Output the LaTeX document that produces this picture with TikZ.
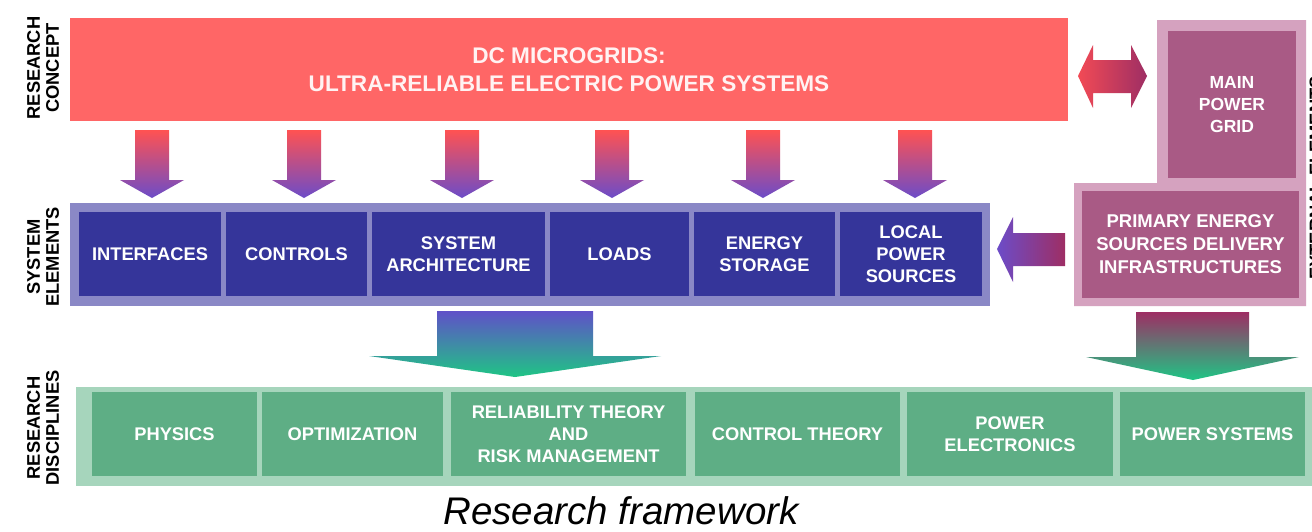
\documentclass[tikz,border=0pt]{standalone}
\usepackage{fontspec}
\setmainfont{Liberation Sans}
\definecolor{redBox}{HTML}{FF6666}
\definecolor{extOuter}{HTML}{D5A2BF}
\definecolor{extInner}{HTML}{A95A85}
\definecolor{sysOuter}{HTML}{8A88C6}
\definecolor{sysInner}{HTML}{35359A}
\definecolor{disOuter}{HTML}{A6D5BC}
\definecolor{disInner}{HTML}{5EAE85}
\definecolor{arrTop}{HTML}{FF5252}
\definecolor{arrBot}{HTML}{6C4CC8}
\definecolor{bigTop}{HTML}{6050C8}
\definecolor{bigBot}{HTML}{1FC585}
\definecolor{magArr}{HTML}{9E2E64}
\definecolor{dblLeft}{HTML}{F24A55}
\newcommand\smalldown[1]{%
  \shade[top color=arrTop, bottom color=arrBot]
    ({#1-17},130) -- ({#1+17},130) -- ({#1+17},180) -- ({#1+32},180) --
    (#1,198) -- ({#1-32},180) -- ({#1-17},180) -- cycle;}
\begin{document}
\begin{tikzpicture}[x=1pt,y=-1pt,
  box/.style={text=white, font=\bfseries\fontsize{18.3}{22}\selectfont, align=center, inner sep=0pt},
  sysbox/.style={box, fill=sysInner, minimum height=84pt},
  disbox/.style={box, fill=disInner, minimum height=84pt},
  extbox/.style={box, fill=extInner},
  rowlabel/.style={rotate=90, font=\bfseries\fontsize{18.3}{19}\selectfont, align=center, inner sep=0pt}]
\useasboundingbox (0,0) rectangle (1312,531);
\fill[white] (0,0) rectangle (1312,531);

% research concept
\node[box, fill=redBox, minimum width=998pt, minimum height=103pt,
      font=\bfseries\fontsize{22.6}{28}\selectfont, text=white!95!red] (concept) at (569,69.5)
  {DC MICROGRIDS:\\ULTRA-RELIABLE ELECTRIC POWER SYSTEMS};

% external elements frame
\fill[extOuter] (1157,20) -- (1306,20) -- (1306,306) -- (1074,306) -- (1074,183) -- (1157,183) -- cycle;
\node[extbox, minimum width=128pt, minimum height=147pt, font=\bfseries\fontsize{17.5}{22}\selectfont] (grid) at (1232,104.5) {MAIN\\POWER\\GRID};
\node[extbox, minimum width=217pt, minimum height=107pt, font=\bfseries\fontsize{18.5}{23}\selectfont] (primary) at (1190.5,244.5) {PRIMARY ENERGY\\SOURCES DELIVERY\\INFRASTRUCTURES};

% system elements
\fill[sysOuter] (70,203) rectangle (990,306);
\node[sysbox, minimum width=142pt] (interfaces) at (150,254) {INTERFACES};
\node[sysbox, minimum width=141pt] (controls) at (296.5,254) {CONTROLS};
\node[sysbox, minimum width=173pt] (arch) at (458.5,254) {SYSTEM\\ARCHITECTURE};
\node[sysbox, minimum width=139pt] (loads) at (619.5,254) {LOADS};
\node[sysbox, minimum width=141pt] (storage) at (764.5,254) {ENERGY\\STORAGE};
\node[sysbox, minimum width=142pt] (local) at (911,254) {LOCAL\\POWER\\SOURCES};

% research disciplines
\fill[disOuter] (76,387) rectangle (1312,486);
\node[disbox, minimum width=165pt] (physics) at (174.5,434) {PHYSICS};
\node[disbox, minimum width=181pt] (optim) at (352.5,434) {OPTIMIZATION};
\node[disbox, minimum width=235pt] (reliab) at (568.5,434) {RELIABILITY THEORY\\AND\\RISK MANAGEMENT};
\node[disbox, minimum width=205pt] (ctrl) at (797.5,434) {CONTROL THEORY};
\node[disbox, minimum width=206pt] (pe) at (1010,434) {POWER\\ELECTRONICS};
\node[disbox, minimum width=185pt] (ps) at (1212.5,434) {POWER SYSTEMS};

% row labels
\node[rowlabel] (lconcept) at (43,68) {RESEARCH\\CONCEPT};
\node[rowlabel] (lsys) at (43,257) {SYSTEM\\ELEMENTS};
\node[rowlabel] (ldis) at (43,428) {RESEARCH\\DISCIPLINES};
\node[rowlabel] (lext) at (1316,178) {EXTERNAL ELEMENTS};

% small down arrows
\smalldown{152}
\smalldown{304}
\smalldown{462}
\smalldown{612}
\smalldown{763}
\smalldown{915}

% double arrow concept <-> grid
\shade[left color=dblLeft, right color=magArr]
  (1078,76) -- (1093,45) -- (1093,60) -- (1131,60) -- (1131,45) -- (1147,76) --
  (1131,108) -- (1131,93) -- (1093,93) -- (1093,108) -- cycle;

% left arrow primary -> system elements
\shade[left color=arrBot, right color=magArr]
  (997,249) -- (1013,217) -- (1013,233) -- (1065,233) -- (1065,266) -- (1013,266) -- (1013,282) -- cycle;

% big arrows
\shade[top color=bigTop, bottom color=bigBot]
  (437,311) -- (593,311) -- (593,356) -- (661,356) -- (515,377) -- (369,356) -- (437,356) -- cycle;
\shade[top color=magArr, bottom color=bigBot]
  (1136,312) -- (1249,312) -- (1249,357) -- (1299,357) -- (1193,380) -- (1086,357) -- (1136,357) -- cycle;

% caption
\node[anchor=base, inner sep=0pt, font=\itshape\fontsize{38.5}{40}\selectfont] (caption) at (621,524) {Research framework};
\end{tikzpicture}
\end{document}
